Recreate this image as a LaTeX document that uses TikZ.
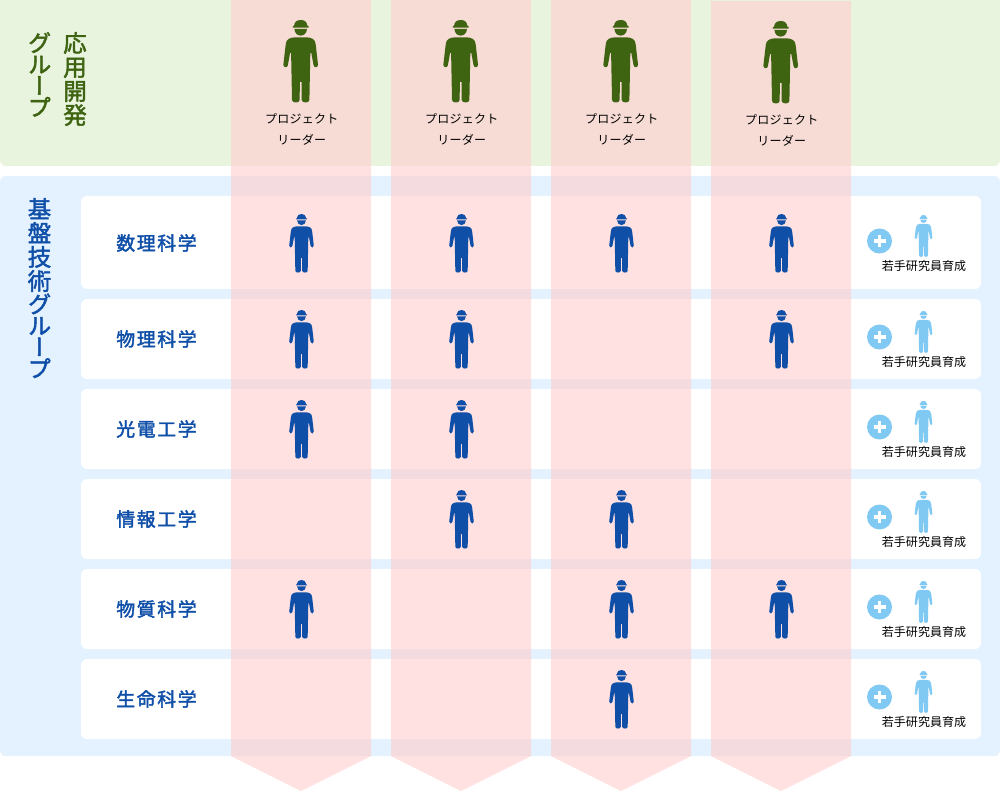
\documentclass[tikz,border=0pt]{standalone}
\usepackage{fontspec}
\setmainfont{Noto Sans CJK JP}
\newfontfamily\vertfont[RawFeature={+vert},FakeBold=2]{Noto Sans CJK JP}
\newfontfamily\rowfont[LetterSpace=9,FakeBold=2.2]{Noto Sans CJK JP}
\newfontfamily\labfont[LetterSpace=2]{Noto Sans CJK JP}
\newfontfamily\younfont[LetterSpace=0.6]{Noto Sans CJK JP}
\definecolor{greenpanel}{HTML}{E9F4DF}
\definecolor{bluepanel}{HTML}{E3F2FE}
\definecolor{darkgreen}{HTML}{3E6412}
\definecolor{darkblue}{HTML}{0F4FA8}
\definecolor{lightblue}{HTML}{7FC9F2}
\definecolor{colred}{RGB}{255,205,205}
\tikzset{
  card/.style={fill=white,rounded corners=6pt},
  column/.style={fill=colred,fill opacity=.6},
  heading/.style={font=\vertfont\fontsize{23.5}{24}\selectfont,align=center,inner sep=0pt},
  rowlabel/.style={font=\rowfont\fontsize{18.8}{20}\selectfont,text=darkblue,inner sep=0pt},
  small/.style={font=\labfont\fontsize{12}{14}\selectfont,text=black,inner sep=0pt},
  smally/.style={font=\younfont\fontsize{12}{14}\selectfont,text=black,inner sep=0pt},
  worker/.pic={
    \fill (-8,7.7) .. controls (-8.3,6.2) and (-7.6,5.8) .. (-6.6,5.6)
      .. controls (-6.4,1.8) and (-3.5,0) .. (0,0)
      .. controls (3.5,0) and (6.4,1.8) .. (6.6,5.6)
      .. controls (7.6,5.8) and (8.3,6.2) .. (8,7.7) -- cycle;
    \fill (-6.3,9) -- (6.3,9) .. controls (6,13) and (3.5,15.6) .. (0,15.6)
      .. controls (-3.5,15.6) and (-6,13) .. (-6.3,9) -- cycle;
    \fill (-5.5,17.3) -- (5.5,17.3) .. controls (11,17.6) and (14.6,19) .. (15,24.5)
      -- (17.3,44.5) .. controls (17.6,47.8) and (13.2,48.3) .. (12.8,45)
      -- (10.6,33) -- (9.6,33) -- (8.7,80) .. controls (8.6,83.3) and (1.2,83.3) .. (1,80)
      -- (0.9,62) -- (-0.9,62) -- (-1,80) .. controls (-1.2,83.3) and (-8.6,83.3) .. (-8.7,80)
      -- (-9.6,33) -- (-10.6,33) -- (-12.8,45) .. controls (-13.2,48.3) and (-17.6,47.8) .. (-17.3,44.5)
      -- (-15,24.5) .. controls (-14.6,19) and (-11,17.6) .. (-5.5,17.3) -- cycle;
  }
}
\begin{document}
\begin{tikzpicture}[x=1pt,y=-1pt]
\useasboundingbox (0,0) rectangle (1000,791);
% panels
\fill[greenpanel] (0,0) -- (1000,0) [rounded corners=6pt] -- (1000,166) -- (0,166) [sharp corners] -- cycle;
\fill[bluepanel,rounded corners=6pt] (0,176) rectangle (1000,756);
% discipline cards
\foreach \t/\b in {196/289,299/379,389/469,479/559,569/649,659/739}
  \fill[card] (81,\t) rectangle (981,\b);
% project columns
\foreach \l/\top in {231/0,391/0,551/0,711/1}{
  \fill[column] (\l,\top) -- (\l+140,\top) -- (\l+140,756) -- (\l+70,791) -- (\l,756) -- cycle;
}
% headings
\node[heading,text=darkgreen,anchor=north] (hApp) at (75,32) {応\\用\\開\\発};
\node[heading,text=darkgreen,anchor=north] (hGrpA) at (39.5,32) {グ\\[-2.5pt]ル\\[-2.5pt]ー\\[-2.5pt]プ};
\node[heading,text=darkblue,anchor=north] (hBase) at (39.5,198) {基\\盤\\技\\術\\[-1pt]グ\\[-2.5pt]ル\\[-2.5pt]ー\\[-2.5pt]プ};
% project leaders
\foreach \x/\dy [count=\i] in {300.7/0,460.7/0,620.7/0,780.7/1}{
  \pic[darkgreen] at (\x,20+\dy) {worker};
  \node[small] (pl\i) at (\x+1,118.5+\dy) {プロジェクト};
  \node[small] (lr\i) at (\x+1,139.5+\dy) {リーダー};
}
% row labels
\node[rowlabel] (r1) at (156.5,243) {数理科学};
\node[rowlabel] (r2) at (156.5,339) {物理科学};
\node[rowlabel] (r3) at (156.5,429) {光電工学};
\node[rowlabel] (r4) at (156.5,519) {情報工学};
\node[rowlabel] (r5) at (156.5,609) {物質科学};
\node[rowlabel] (r6) at (156.5,699) {生命科学};
% members
\foreach \y/\cols in {214/{301.5,461.5,621.5,781.5},310/{301.5,461.5,781.5},400/{301.5,461.5},490/{461.5,621.5},580/{301.5,621.5,781.5},670/{621.5}}{
  \foreach \x in \cols
    \pic[darkblue,scale=.71] at (\x,\y) {worker};
}
% young researchers
\foreach \y [count=\i] in {215,311,401,491,581,671}{
  \pic[lightblue,scale=.51] at (923.5,\y) {worker};
  \node[fill=lightblue,circle,minimum size=25pt,inner sep=0pt] (p\i) at (879.5,\y+26) {};
  \fill[white] (p\i.center) +(-6,-1.9) rectangle +(6,1.9);
  \fill[white] (p\i.center) +(-1.9,-6) rectangle +(1.9,6);
  \node[smally] (y\i) at (924,\y+51) {若手研究員育成};
}
\end{tikzpicture}
\end{document}
